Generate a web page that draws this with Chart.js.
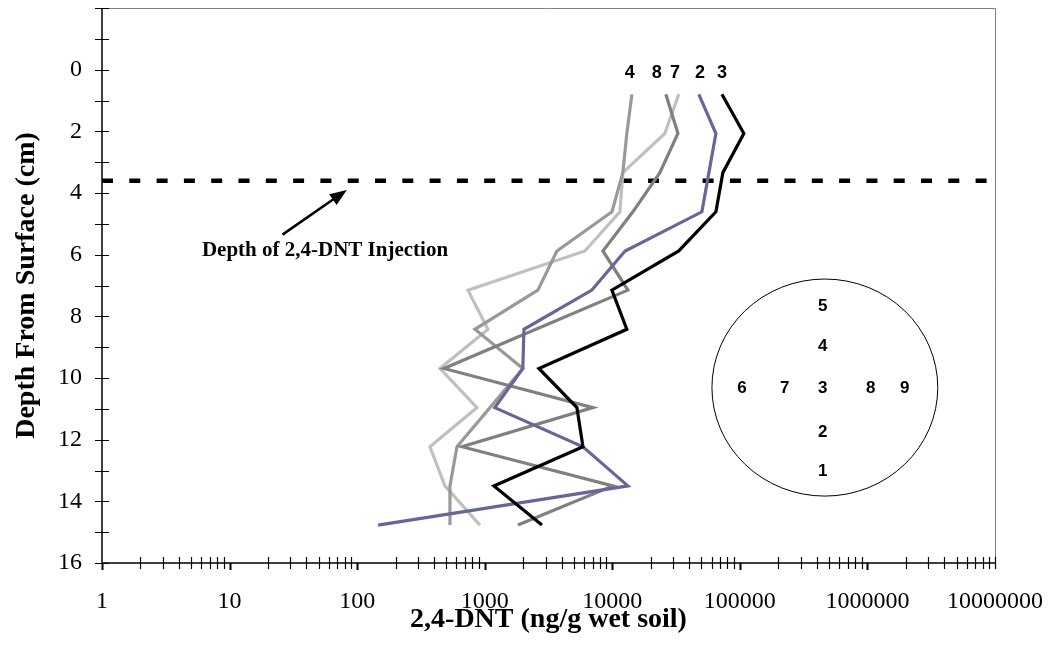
<!DOCTYPE html>
<html>
<head>
<meta charset="utf-8">
<script src="https://cdn.jsdelivr.net/npm/chart.js@4.4.0/dist/chart.umd.min.js"></script>
<style>
  body { margin: 0; background: #fff; }
  #wrap { width: 1053px; height: 660px; }
</style>
</head>
<body>
<div id="wrap"><canvas id="myChart" width="1053" height="660"></canvas></div>
<script>
// depth of each soil slice (cm)
const depth = [0.8, 2.07, 3.34, 4.61, 5.88, 7.15, 8.42, 9.69, 10.96, 12.23, 13.5, 14.77];

// 2,4-DNT (ng/g wet soil) per sampling location
const loc2 = [47700, 64900, 57200, 50400, 12600, 6920, 2030, 1990, 1200, 5890, 13250, 146];
const loc3 = [72300, 107500, 73600, 64900, 33200, 9930, 13000, 2660, 5280, 5890, 1180, 2810];
const loc4 = [14250, 13000, 12100, 9930, 3680, 2610, 838, 1990, 1100, 606, 534, 534];
const loc7 = [33200, 25800, 12100, 11480, 6100, 739, 1060, 446, 869, 372, 488, 917];
const loc8 = [26300, 32700, 23600, 14500, 8440, 13250, 2520, 479, 7050, 663, 10100, 1820];

const injectionDepth = 3.6;
const xTicks = [1, 10, 100, 1000, 10000, 100000, 1000000, 10000000];

// labels above the profiles
const topLabels = ['4', '8', '7', '2', '3'];
const topLabelX = [13700, 22300, 31000, 48600, 72300];

// sampling layout sketch (circle)
const circleNums = ['5', '4', '6', '7', '3', '8', '9', '2', '1'];
const circleNumX = [447000, 447000, 103700, 225000, 447000, 1060000, 1960000, 447000, 447000];
const circleNumY = [7.69, 8.96, 10.32, 10.32, 10.32, 10.32, 10.32, 11.75, 13.02];

const series = [
  { label: '3', vals: loc3, color: '#000000' },
  { label: '2', vals: loc2, color: '#666699' },
  { label: '8', vals: loc8, color: '#808080' },
  { label: '4', vals: loc4, color: '#999999' },
  { label: '7', vals: loc7, color: '#C0C0C0' }
];

const datasets = series.map((s) => ({
  label: s.label,
  data: depth.map((d, i) => ({ x: s.vals[i], y: d })),
  borderColor: s.color,
  backgroundColor: s.color,
  borderWidth: 3.2,
  pointRadius: 0,
  tension: 0,
  fill: false
}));

datasets.push({
  label: 'injection',
  data: [{ x: 1, y: injectionDepth }, { x: 10000000, y: injectionDepth }],
  borderColor: '#000000',
  borderWidth: 4.5,
  borderDash: [11, 16.3],
  pointRadius: 0,
  fill: false
});

const extras = {
  id: 'extras',
  beforeDatasetsDraw(chart) {
    const { ctx, chartArea: a, scales: { x, y } } = chart;
    ctx.save();
    // top and right frame
    ctx.strokeStyle = '#808080';
    ctx.lineWidth = 1;
    ctx.beginPath();
    ctx.moveTo(a.left, a.top + 0.5);
    ctx.lineTo(a.right + 0.5, a.top + 0.5);
    ctx.lineTo(a.right + 0.5, a.bottom);
    ctx.stroke();
    // axis lines
    ctx.strokeStyle = '#000';
    ctx.lineWidth = 1.5;
    ctx.beginPath();
    ctx.moveTo(a.left, a.top);
    ctx.lineTo(a.left, a.bottom);
    ctx.lineTo(a.right, a.bottom);
    ctx.stroke();
    // y ticks, every 1 cm, crossing the axis
    ctx.lineWidth = 1.2;
    ctx.beginPath();
    for (let v = -2; v <= 16; v++) {
      const py = Math.round(y.getPixelForValue(v)) + 0.5;
      ctx.moveTo(a.left - 7, py);
      ctx.lineTo(a.left + 7, py);
    }
    ctx.stroke();
    // x ticks, log minor crossing, decades going down
    for (let k = 0; k < 7; k++) {
      for (let m = 1; m <= 9; m++) {
        const px = Math.round(x.getPixelForValue(m * Math.pow(10, k))) + 0.5;
        ctx.beginPath();
        if (m === 1) {
          ctx.lineWidth = 2;
          ctx.moveTo(px, a.bottom);
          ctx.lineTo(px, a.bottom + 7);
        } else {
          ctx.lineWidth = 1.2;
          ctx.moveTo(px, a.bottom - 6);
          ctx.lineTo(px, a.bottom + 6);
        }
        ctx.stroke();
      }
    }
    const pe = Math.round(x.getPixelForValue(10000000)) + 0.5;
    ctx.lineWidth = 1.2;
    ctx.beginPath();
    ctx.moveTo(pe, a.bottom - 6);
    ctx.lineTo(pe, a.bottom + 6);
    ctx.stroke();
    ctx.restore();
  },
  afterDatasetsDraw(chart) {
    const { ctx, scales: { x, y } } = chart;
    ctx.save();
    // arrow to the injection depth
    const x0 = x.getPixelForValue(26), y0 = y.getPixelForValue(5.35);
    const x1 = x.getPixelForValue(83), y1 = y.getPixelForValue(3.9);
    const ang = Math.atan2(y1 - y0, x1 - x0);
    ctx.strokeStyle = '#000';
    ctx.fillStyle = '#000';
    ctx.lineWidth = 2.5;
    ctx.beginPath();
    ctx.moveTo(x0, y0);
    ctx.lineTo(x1 - 12 * Math.cos(ang), y1 - 12 * Math.sin(ang));
    ctx.stroke();
    ctx.beginPath();
    ctx.moveTo(x1, y1);
    ctx.lineTo(x1 - 17 * Math.cos(ang) + 6.5 * Math.sin(ang), y1 - 17 * Math.sin(ang) - 6.5 * Math.cos(ang));
    ctx.lineTo(x1 - 17 * Math.cos(ang) - 6.5 * Math.sin(ang), y1 - 17 * Math.sin(ang) + 6.5 * Math.cos(ang));
    ctx.closePath();
    ctx.fill();

    ctx.font = 'bold 21px "Liberation Serif"';
    ctx.textAlign = 'center';
    ctx.textBaseline = 'middle';
    ctx.fillText('Depth of 2,4-DNT Injection', x.getPixelForValue(56), y.getPixelForValue(5.88));

    // location numbers above the profiles
    ctx.font = 'bold 18px "Liberation Sans"';
    topLabels.forEach((t, i) => {
      ctx.fillText(t, x.getPixelForValue(topLabelX[i]), y.getPixelForValue(0.1));
    });

    // sketch of the sampling layout
    const cl = x.getPixelForValue(60400), cr = x.getPixelForValue(3560000);
    const ct = y.getPixelForValue(6.79), cb = y.getPixelForValue(13.83);
    ctx.lineWidth = 1;
    ctx.beginPath();
    ctx.ellipse((cl + cr) / 2, (ct + cb) / 2, (cr - cl) / 2, (cb - ct) / 2, 0, 0, Math.PI * 2);
    ctx.stroke();
    ctx.font = 'bold 17px "Liberation Sans"';
    circleNums.forEach((t, i) => {
      ctx.fillText(t, x.getPixelForValue(circleNumX[i]), y.getPixelForValue(circleNumY[i]));
    });
    ctx.restore();
  }
};

const config = {
  type: 'line',
  data: { datasets },
  options: {
    responsive: false,
    animation: false,
    layout: { padding: { left: 0, right: 58, top: 8, bottom: 0 } },
    plugins: { legend: { display: false }, tooltip: { enabled: false } },
    scales: {
      x: {
        type: 'logarithmic',
        min: 1,
        max: 10000000,
        afterFit: (s) => { s.height = 97; s.paddingLeft = 0; s.paddingRight = 0; },
        afterBuildTicks: (s) => { s.ticks = xTicks.map((v) => ({ value: v })); },
        grid: { display: false, drawTicks: false },
        border: { display: false },
        ticks: {
          padding: 24,
          color: '#000',
          maxRotation: 0,
          autoSkip: false,
          font: { family: 'Liberation Serif', size: 24 },
          callback: (v) => String(Math.round(v))
        },
        title: {
          display: true,
          text: '2,4-DNT (ng/g wet soil)',
          color: '#000',
          font: { family: 'Liberation Serif', size: 28, weight: 'bold' },
          padding: { top: 0, bottom: 23 }
        }
      },
      y: {
        type: 'linear',
        reverse: true,
        min: -2,
        max: 16,
        afterFit: (s) => { s.width = 102; s.paddingTop = 0; s.paddingBottom = 0; },
        grid: { display: false, drawTicks: false },
        border: { display: false },
        ticks: {
          stepSize: 1,
          padding: 20,
          color: '#000',
          autoSkip: false,
          font: { family: 'Liberation Serif', size: 24 },
          callback: (v) => (v >= 0 && v % 2 === 0 ? String(v) : '')
        },
        title: {
          display: true,
          text: 'Depth From Surface (cm)',
          color: '#000',
          font: { family: 'Liberation Serif', size: 28, weight: 'bold' },
          padding: { top: 10, bottom: 0 }
        }
      }
    }
  },
  plugins: [extras]
};

var myChart = new Chart(document.getElementById('myChart'), config);
</script>
</body>
</html>
